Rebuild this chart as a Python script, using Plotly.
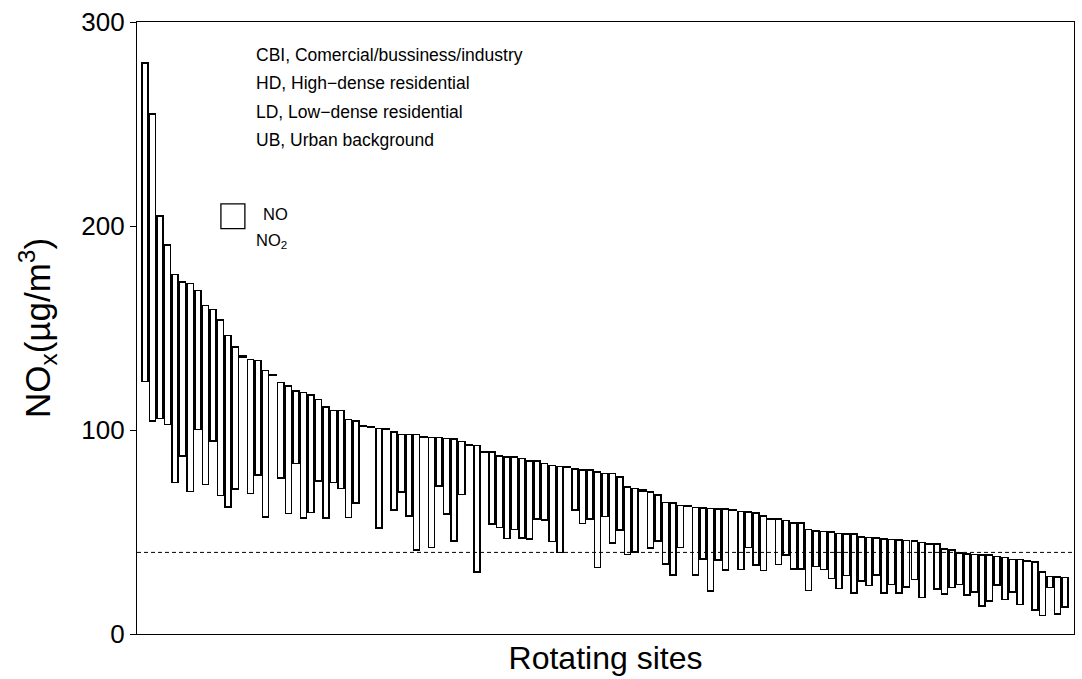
import plotly.graph_objects as go

# ---- data ----
site_index = list(range(123))

nox_total = [
    280.0, 255.0, 204.8, 190.6, 176.2, 172.6, 171.8, 168.5, 161.0, 159.1,
    153.9, 146.4, 140.6, 136.2, 134.6, 134.0, 129.1, 127.1, 123.2, 121.6,
    119.1, 118.3, 117.2, 115.0, 111.3, 109.6, 109.5, 105.1, 104.3, 102.1,
    101.6, 100.7, 100.5, 99.0, 97.9, 97.9, 97.9, 96.6, 96.3, 96.3,
    95.9, 95.6, 94.3, 93.0, 92.3, 89.4, 89.2, 87.3, 86.8, 86.8,
    86.0, 84.8, 84.7, 83.5, 82.7, 82.1, 82.0, 80.8, 80.4, 80.3,
    79.5, 78.8, 78.8, 77.0, 72.1, 71.3, 70.5, 69.7, 68.2, 64.4,
    64.3, 63.0, 62.7, 62.0, 61.8, 61.5, 61.2, 61.2, 60.9, 60.0,
    59.9, 59.2, 57.9, 56.6, 56.3, 55.6, 54.5, 54.3, 51.2, 50.6,
    50.3, 50.1, 49.3, 49.1, 48.9, 47.6, 47.3, 47.0, 46.5, 46.3,
    46.0, 45.9, 45.7, 44.9, 44.4, 44.2, 41.6, 41.3, 39.8, 39.3,
    39.0, 38.7, 38.7, 38.0, 37.4, 36.4, 36.4, 36.1, 35.4, 30.3,
    28.1, 27.9, 27.6,
]

no2_values = [
    123.7, 104.4, 105.6, 102.6, 74.2, 87.3, 69.8, 100.3, 73.3, 94.6,
    68.0, 62.3, 71.0, 135.9, 68.9, 78.0, 57.4, 126.8, 76.5, 59.1,
    83.5, 56.8, 59.6, 74.9, 56.8, 74.2, 71.3, 57.1, 64.1, 101.8,
    101.3, 51.9, 100.2, 60.7, 69.7, 57.8, 41.1, 96.3, 42.4, 72.6,
    58.9, 45.7, 68.4, 92.7, 30.3, 89.1, 54.0, 52.2, 46.8, 51.2,
    47.1, 46.5, 56.3, 55.8, 45.4, 40.0, 81.7, 60.7, 54.2, 56.3,
    32.6, 57.6, 44.5, 51.1, 39.0, 40.1, 70.2, 42.1, 45.5, 34.3,
    28.9, 42.4, 62.4, 29.0, 36.7, 21.0, 36.2, 31.3, 60.6, 31.5,
    42.3, 33.8, 31.2, 56.3, 34.1, 38.7, 31.8, 31.8, 21.4, 33.1,
    31.7, 27.2, 22.4, 28.6, 20.1, 26.1, 23.7, 28.9, 20.1, 24.3,
    20.2, 23.0, 26.6, 17.9, 44.1, 22.0, 19.6, 22.8, 24.3, 19.1,
    20.7, 13.7, 16.2, 24.0, 16.8, 20.7, 14.4, 35.8, 11.7, 9.0,
    22.7, 9.8, 13.2,
]

no_values = [round(t - b, 2) for t, b in zip(nox_total, no2_values)]

reference_level = 40
y_ticks = [0, 100, 200, 300]
category_notes = [
    "CBI, Comercial/bussiness/industry",
    "HD, High\u2212dense residential",
    "LD, Low\u2212dense residential",
    "UB, Urban background",
]

FONT = "Liberation Sans, Arial, sans-serif"

fig = go.Figure()
fig.add_trace(go.Bar(
    x=site_index, y=no2_values, name="NO<sub>2</sub>",
    marker=dict(color="rgba(0,0,0,0)", line=dict(width=0)),
    showlegend=False, hoverinfo="skip",
))
fig.add_trace(go.Bar(
    x=site_index, y=no_values, name="NO",
    marker=dict(color="white", line=dict(color="black", width=1.5)),
    showlegend=False,
))

fig.add_shape(type="line", xref="paper", yref="y", x0=0, x1=1,
              y0=reference_level, y1=reference_level,
              line=dict(color="black", width=1, dash="4px,3px"))

# manual legend
fig.add_shape(type="rect", xref="paper", yref="paper",
              x0=(221 - 137) / 938, x1=(245 - 137) / 938,
              y0=(634 - 226) / 616, y1=(634 - 201) / 616,
              line=dict(color="black", width=1.3), fillcolor="white")
fig.add_annotation(xref="paper", yref="paper", x=(261 - 137) / 938, y=(634 - 211) / 616,
                   text="NO", showarrow=False, xanchor="left", yanchor="middle",
                   font=dict(family=FONT, size=16.5, color="black"))
fig.add_annotation(xref="paper", yref="paper", x=(254 - 137) / 938, y=(634 - 238) / 616,
                   text="NO<sub>2</sub>", showarrow=False, xanchor="left", yanchor="middle",
                   font=dict(family=FONT, size=16.5, color="black"))

for k, note in enumerate(category_notes):
    fig.add_annotation(xref="paper", yref="paper", x=(254 - 137) / 938,
                       y=(634 - (51 + 28.7 * k)) / 616,
                       text=note, showarrow=False, xanchor="left", yanchor="middle",
                       font=dict(family=FONT, size=17.5, color="black"))

fig.update_layout(
    width=1082, height=679,
    margin=dict(l=137, r=7, t=18, b=45),
    paper_bgcolor="white", plot_bgcolor="white",
    barmode="stack", bargap=0.2,
    showlegend=False,
    font=dict(family=FONT, color="black"),
)
fig.update_xaxes(
    range=[-1.06, 123.18], showticklabels=False, ticks="", showgrid=False,
    zeroline=False, showline=True, linecolor="black", linewidth=1.3, mirror=True,
    title=dict(text="Rotating sites", font=dict(family=FONT, size=32), standoff=12),
)
fig.update_yaxes(
    range=[0, 300], tickvals=y_ticks, ticks="outside", ticklen=6, tickwidth=1,
    tickcolor="black", tickfont=dict(family=FONT, size=26),
    showgrid=False, zeroline=False, showline=True, linecolor="black", linewidth=1.3,
    mirror=True,
    title=dict(text="NO<sub>x</sub>(\u00b5g/m<sup>3</sup>)", font=dict(family=FONT, size=35), standoff=20),
)

fig.write_html("out.html")
